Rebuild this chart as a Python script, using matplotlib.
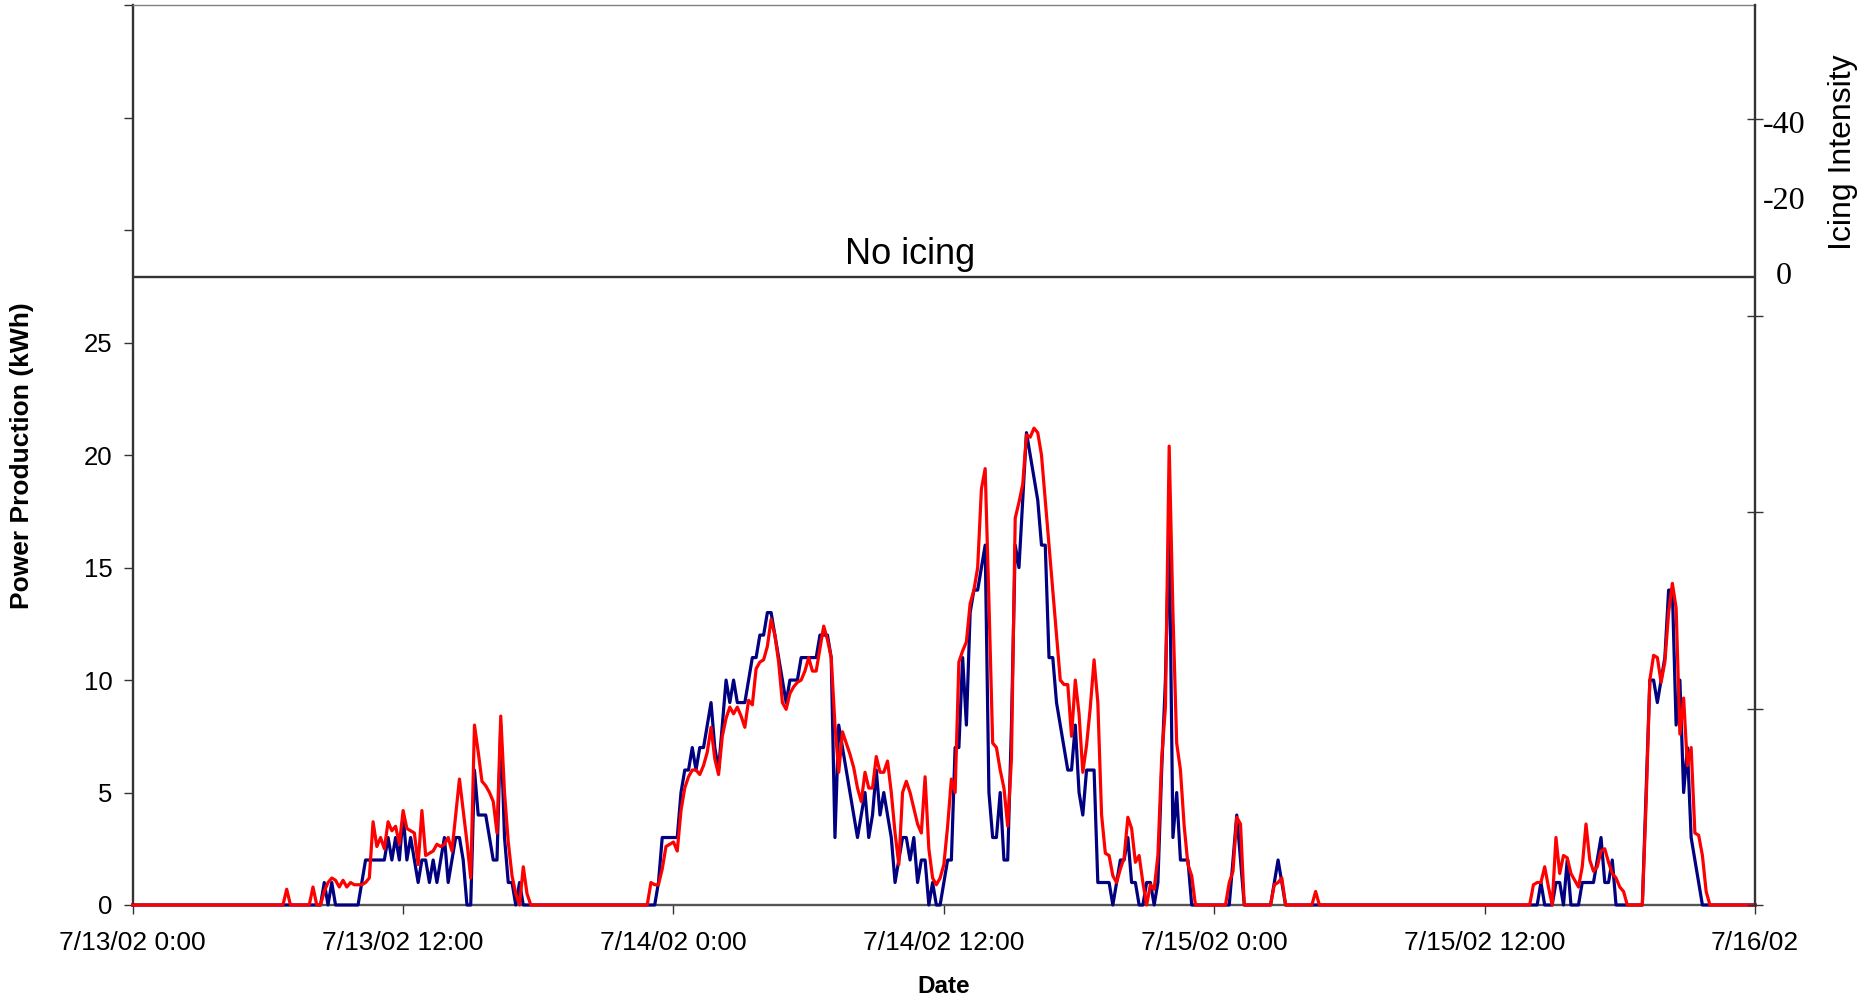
import numpy as np
import matplotlib
matplotlib.use("Agg")
import matplotlib.pyplot as plt

plt.rcParams['font.family'] = ['Liberation Sans', 'DejaVu Sans']
plt.rcParams['axes.unicode_minus'] = False

# ---- 10-minute power production records (kWh), 13-16 July 2002 ----
START = np.datetime64('2002-07-13T00:00')
END = np.datetime64('2002-07-16T00:00')

# active windows: (start hour after 7/13 0:00, values every 10 min)
measured_13_start_h = 6
measured_13 = [0, 0, 0, 0, 0, 0,
               0, 0, 0, 0, 0, 0,
               0, 0, 0, 1, 0, 1,
               0, 0, 0, 0, 0, 0,
               0, 1, 2, 2, 2, 2,
               2, 2, 3, 2, 3, 2,
               4, 2, 3, 2, 1, 2,
               2, 1, 2, 1, 2, 3,
               1, 2, 3, 3, 2, 0,
               0, 6, 4, 4, 4, 3,
               2, 2, 8, 3, 1, 1,
               0, 1, 0, 0, 0, 0,
               0]
predicted_13 = [0, 0, 0, 0, 0, 0.7,
                0, 0, 0, 0, 0, 0,
                0.8, 0, 0, 0.6, 1.0, 1.2,
                1.1, 0.8, 1.1, 0.8, 1.0, 0.9,
                0.9, 0.9, 1.0, 1.2, 3.7, 2.6,
                3.0, 2.5, 3.7, 3.3, 3.5, 2.7,
                4.2, 3.4, 3.3, 3.2, 1.8, 4.2,
                2.2, 2.3, 2.4, 2.7, 2.6, 2.7,
                3.0, 2.4, 4.0, 5.6, 4.2, 2.8,
                1.2, 8.0, 6.8, 5.5, 5.3, 5.0,
                4.6, 3.2, 8.4, 5.0, 2.8, 1.3,
                0.5, 0, 1.7, 0.5, 0, 0,
                0]

measured_14_start_h = 22
measured_14 = [0, 0, 0, 0, 0, 0,
               0, 0, 1, 3, 3, 3,
               3, 3, 5, 6, 6, 7,
               6, 7, 7, 8, 9, 7,
               6, 8, 10, 9, 10, 9,
               9, 9, 10, 11, 11, 12,
               12, 13, 13, 12, 11, 10,
               9, 10, 10, 10, 11, 11,
               11, 11, 11, 12, 12, 12,
               11, 3, 8, 7, 6, 5,
               4, 3, 4, 5, 3, 4,
               6, 4, 5, 4, 3, 1,
               2, 3, 3, 2, 3, 1,
               2, 2, 0, 1, 0, 0,
               1, 2, 2, 7, 7, 11,
               8, 13, 14, 14, 15, 16,
               5, 3, 3, 5, 2, 2,
               8, 16, 15, 18, 21, 20,
               19, 18, 16, 16, 11, 11,
               9, 8, 7, 6, 6, 8,
               5, 4, 6, 6, 6, 1,
               1, 1, 1, 0, 1, 2,
               2, 3, 1, 1, 0, 0,
               1, 1, 0, 1, 6, 10,
               17, 3, 5, 2, 2, 2,
               0, 0, 0, 0, 0, 0,
               0, 0, 0, 0, 0, 2,
               4, 2, 0, 0, 0, 0,
               0, 0, 0, 0, 1, 2,
               1, 0, 0, 0, 0, 0,
               0, 0, 0, 0, 0, 0,
               0]
predicted_14 = [0, 0, 0, 0, 0, 0,
                1.0, 0.9, 0.9, 1.6, 2.6, 2.7,
                2.8, 2.4, 4.2, 5.2, 5.7, 6.0,
                6.0, 5.8, 6.2, 6.8, 7.9, 6.5,
                5.8, 7.5, 8.3, 8.8, 8.5, 8.8,
                8.4, 7.9, 9.1, 8.9, 10.5, 10.8,
                10.9, 11.5, 12.7, 12.0, 10.8, 9.0,
                8.7, 9.4, 9.7, 9.9, 10.0, 10.4,
                11.0, 10.4, 10.4, 11.4, 12.4, 11.8,
                11.0, 8.0, 5.9, 7.7, 7.2, 6.7,
                6.1, 5.2, 4.6, 5.9, 5.2, 5.2,
                6.6, 5.9, 5.9, 6.4, 5.0, 3.2,
                1.8, 5.0, 5.5, 5.0, 4.3, 3.6,
                3.2, 5.7, 2.5, 1.2, 0.9, 1.2,
                1.8, 3.5, 5.6, 5.0, 10.8, 11.3,
                11.7, 13.4, 14.0, 15.0, 18.5, 19.4,
                13.5, 7.2, 7.0, 6.0, 5.2, 3.5,
                6.5, 17.2, 17.9, 18.7, 20.9, 20.8,
                21.2, 21.0, 20.0, 18.0, 16.0, 14.0,
                12.0, 10.0, 9.8, 9.8, 7.5, 10.0,
                8.5, 5.9, 7.1, 8.8, 10.9, 9.0,
                4.0, 2.3, 2.2, 1.3, 1.0, 1.6,
                2.1, 3.9, 3.4, 1.9, 2.2, 1.0,
                0, 0.9, 0.7, 2.2, 6.5, 8.8,
                20.4, 13.0, 7.2, 6.0, 3.5, 1.8,
                1.3, 0, 0, 0, 0, 0,
                0, 0, 0, 0, 1.0, 1.5,
                3.9, 3.6, 0, 0, 0, 0,
                0, 0, 0, 0, 0.9, 1.0,
                1.2, 0, 0, 0, 0, 0,
                0, 0, 0, 0.6, 0, 0,
                0]

measured_15_start_h = 61
measured_15 = [0, 0, 0, 0, 0, 0,
               0, 0, 0, 1, 0, 0,
               0, 1, 1, 0, 2, 0,
               0, 0, 1, 1, 1, 1,
               2, 3, 1, 1, 2, 0,
               0, 0, 0, 0, 0, 0,
               0, 5, 10, 10, 9, 10,
               11, 14, 14, 8, 10, 5,
               7, 3, 2, 1, 0, 0,
               0, 0, 0, 0, 0, 0,
               0]
predicted_15 = [0, 0, 0, 0, 0, 0,
                0, 0.9, 1.0, 1.0, 1.7, 0.8,
                0, 3.0, 1.4, 2.2, 2.1, 1.4,
                1.1, 0.8, 1.7, 3.6, 2.0, 1.5,
                1.7, 2.4, 2.5, 1.9, 1.4, 1.2,
                0.8, 0.6, 0, 0, 0, 0,
                0, 4.5, 10.0, 11.1, 11.0, 9.9,
                10.8, 13.0, 14.3, 13.2, 7.6, 9.2,
                6.2, 7.0, 3.2, 3.1, 2.2, 0.6,
                0, 0, 0, 0, 0, 0,
                0]

# icing intensity stayed at zero over the whole period
icing_times = [START, END]
icing_values = [0, 0]

tick_times = ['2002-07-13T00:00', '2002-07-13T12:00', '2002-07-14T00:00',
              '2002-07-14T12:00', '2002-07-15T00:00', '2002-07-15T12:00',
              '2002-07-16T00:00']
tick_labels = ['7/13/02 0:00', '7/13/02 12:00', '7/14/02 0:00',
               '7/14/02 12:00', '7/15/02 0:00', '7/15/02 12:00', '7/16/02']

# ---- assemble full 10-minute series ----
n_steps = int((END - START) / np.timedelta64(10, 'm')) + 1
times = START + np.arange(n_steps) * np.timedelta64(10, 'm')


def assemble(windows):
    series = np.zeros(n_steps)
    for start_h, vals in windows:
        i = start_h * 6
        series[i:i + len(vals)] = vals
    return series


measured = assemble([(measured_13_start_h, measured_13),
                     (measured_14_start_h, measured_14),
                     (measured_15_start_h, measured_15)])
predicted = assemble([(measured_13_start_h, predicted_13),
                      (measured_14_start_h, predicted_14),
                      (measured_15_start_h, predicted_15)])

# ---- figure ----
fig = plt.figure(figsize=(18.67, 10), dpi=100)
ax = fig.add_axes([0.0711, 0.095, 0.8689, 0.8997])

ax.plot(times, measured, color='#000080', lw=2.3, clip_on=False, zorder=4)
ax.plot(times, predicted, color='#ff0000', lw=2.3, clip_on=False, zorder=5)

ax.set_xlim(START, END)
ax.set_ylim(0, 40)
ax.set_yticks(np.arange(0, 41, 5))
ax.set_yticklabels(['0', '5', '10', '15', '20', '25', '', '', ''])
ax.set_xticks([np.datetime64(t) for t in tick_times])
ax.set_xticklabels(tick_labels)

spine_col = '#333333'
ax.spines['top'].set_color('#808080')
ax.spines['top'].set_linewidth(1.0)
ax.spines['left'].set_color(spine_col)
ax.spines['left'].set_linewidth(1.7)
ax.spines['bottom'].set_color('#555555')
ax.spines['bottom'].set_linewidth(1.7)
ax.spines['right'].set_visible(False)

ax.tick_params(axis='y', direction='out', length=6.5, width=1.0,
               color=spine_col, labelsize=18.5, pad=8)
ax.tick_params(axis='x', direction='out', length=6.5, width=1.0,
               color=spine_col, labelsize=19, pad=12)

ax.set_ylabel('Power Production (kWh)', fontsize=19, fontweight='bold')
ax.yaxis.set_label_coords(-0.061, 0.5)
ax.set_xlabel('Date', fontsize=17.5, fontweight='bold')
ax.xaxis.set_label_coords(0.5, -0.078)

ax.text(np.datetime64('2002-07-14T10:30'), 28.9, 'No icing',
        ha='center', va='center', fontsize=26)

# secondary axis: unlabeled cross ticks on the right spine
ax2 = ax.twinx()
ax2.set_ylim(0, 4.58)
ax2.set_yticks([0, 1, 2, 3, 4])
ax2.tick_params(axis='y', direction='inout', length=12, width=1.0,
                color=spine_col, labelright=False)
for side in ['top', 'bottom', 'left']:
    ax2.spines[side].set_visible(False)
ax2.spines['right'].set_color(spine_col)
ax2.spines['right'].set_linewidth(1.7)

# icing intensity axis
ax3 = ax.twinx()
ax3.set_ylim(166.2, -71.8)
ax3.set_yticks([-40, -20, 0])
ax3.set_yticklabels(['-40', '-20', '0'])
ax3.tick_params(axis='y', length=0, pad=21)
for lbl in ax3.get_yticklabels():
    lbl.set_fontfamily(['Liberation Serif', 'DejaVu Serif'])
    lbl.set_fontsize(23)
    lbl.set_ha('center')
    lbl.set_va('center')
for side in ['top', 'bottom', 'left', 'right']:
    ax3.spines[side].set_visible(False)
ax3.plot(icing_times, icing_values, color=spine_col, lw=1.7, zorder=3)

fig.text(0.987, 0.848, 'Icing Intensity', rotation=90, ha='center',
         va='center', fontsize=23)

fig.savefig('out.png', dpi=100)
